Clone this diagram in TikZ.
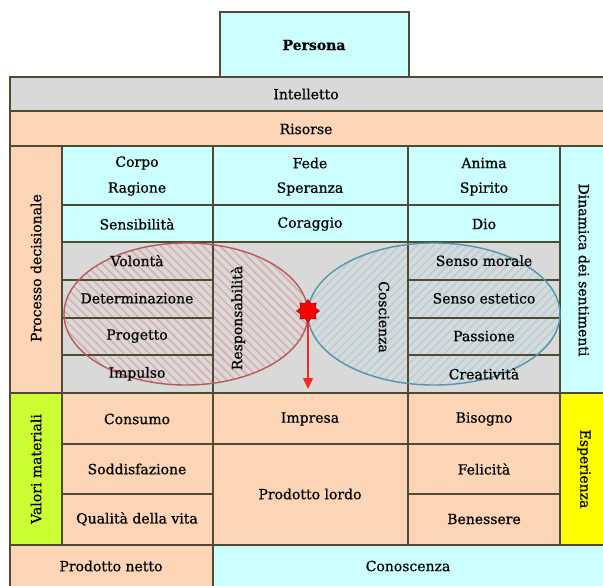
\documentclass[tikz,border=0pt]{standalone}
\usepackage{fontspec}
\setmainfont{DejaVu Serif}[FakeBold=0.6]
\usepackage{tikz}
\usetikzlibrary{arrows.meta,patterns.meta,shapes.geometric,positioning}
\definecolor{azzurro}{HTML}{CCFFFF}
\definecolor{grigio}{HTML}{D9D9D9}
\definecolor{pesca}{HTML}{FBD5B5}
\definecolor{verdelime}{HTML}{CCFF33}
\definecolor{giallo}{HTML}{FFFF00}
\definecolor{bordo}{HTML}{4F4A33}
\definecolor{rossoEll}{HTML}{B65A5A}
\definecolor{bluEll}{HTML}{5096AF}

\begin{document}
\begin{tikzpicture}[x=1pt,y=-1pt,font=\fontsize{14}{16}\selectfont,
  linea/.style={draw=bordo,line width=1.8pt},
  verticale/.style={rotate=90},
  verticaleGiu/.style={rotate=-90}]
%Koordinaten in Pixel, y nach unten
  \pgfmathsetmacro{\xA}{10}
  \pgfmathsetmacro{\xB}{62}
  \pgfmathsetmacro{\xC}{213}
  \pgfmathsetmacro{\xD}{408}
  \pgfmathsetmacro{\xE}{560}
  \pgfmathsetmacro{\xF}{605}
\useasboundingbox (0,0) rectangle (603,586);
%Flaechen
\fill[azzurro] (220,12) rectangle (409,77);
\fill[grigio] (\xA,77) rectangle (\xF,111);
\fill[pesca] (\xA,111) rectangle (\xF,146);
\fill[pesca] (\xA,146) rectangle (\xB,393);
\fill[azzurro] (\xB,146) rectangle (\xE,242);
\fill[grigio] (\xB,242) rectangle (\xE,393);
\fill[azzurro] (\xE,146) rectangle (\xF,393);
\fill[verdelime] (\xA,393) rectangle (\xB,545);
\fill[pesca] (\xB,393) rectangle (\xE,545);
\fill[giallo] (\xE,393) rectangle (\xF,545);
\fill[pesca] (\xA,545) rectangle (\xC,588);
\fill[azzurro] (\xC,545) rectangle (\xF,588);
%Ellipsen schraffiert
\fill[pattern={Lines[angle=-45,distance=6pt,line width=1.5pt]},pattern color=rossoEll!50] (186,314) ellipse [x radius=122, y radius=71];
\fill[pattern={Lines[angle=45,distance=6pt,line width=1.5pt]},pattern color=bluEll!45] (434,314) ellipse [x radius=126, y radius=71];
%Linien
\draw[linea] (220,77) -- (220,12) -- (409,12) -- (409,77);
\draw[linea] (\xA,77) rectangle (\xF,588);
\foreach \y in {111,146,393,545}
  \draw[linea] (\xA,\y) -- (\xF,\y);
\foreach \y in {205,242}
  \draw[linea] (\xB,\y) -- (\xE,\y);
\foreach \y in {280,318,355,444,494}{
  \draw[linea] (\xB,\y) -- (\xC,\y);
  \draw[linea] (\xD,\y) -- (\xE,\y);
}
\draw[linea] (\xC,444) -- (\xD,444);
\draw[linea] (\xB,146) -- (\xB,545);
\draw[linea] (\xC,146) -- (\xC,588);
\draw[linea] (\xD,146) -- (\xD,545);
\draw[linea] (\xE,146) -- (\xE,545);
\draw[rossoEll,line width=1.4pt] (186,314) ellipse [x radius=122, y radius=71];
\draw[bluEll,line width=1.4pt] (434,314) ellipse [x radius=126, y radius=71];
%Texte
\node[font=\bfseries\fontsize{14}{16}\selectfont] (persona) at (314,45) {Persona};
\node (intelletto) at (306,94) {Intelletto};
\node (risorse) at (306,129) {Risorse};
\node[verticale] (processo) at (36,268) {Processo decisionale};
\node[verticaleGiu] (dinamica) at (584,270) {Dinamica dei sentimenti};
\node[verticale] (valori) at (36,469) {Valori materiali};
\node[verticaleGiu] (esperienza) at (584,469) {Esperienza};
\foreach \nome/\x/\primo/\secondo/\terzo in {corpo/137/Corpo/Ragione/Sensibilità,
    fede/310/Fede/Speranza/Coraggio, anima/484/Anima/Spirito/Dio}{
  \node (\nome1) at (\x,163) {\primo};
  \node (\nome2) at (\x,189) {\secondo};
  \node (\nome3) at (\x,224) {\terzo};
}
\foreach \nome/\testo [count=\i] in {volonta/Volontà, determinazione/Determinazione,
    progetto/Progetto, impulso/Impulso}
  \node (\nome) at (137,223+\i*37.7) {\testo};
\foreach \nome/\testo [count=\i] in {morale/Senso morale, estetico/Senso estetico,
    passione/Passione, creativita/Creatività}
  \node (\nome) at (484,223+\i*37.7) {\testo};
\node[verticale] (responsabilita) at (238,318) {Responsabilità};
\node[verticaleGiu] (coscienza) at (384,317) {Coscienza};
\foreach \nome/\x/\testo/\y in {consumo/137/Consumo/419, soddisfazione/137/Soddisfazione/469,
    qualita/137/Qualità della vita/519, impresa/310/Impresa/419, lordo/310/Prodotto lordo/494,
    bisogno/484/Bisogno/419, felicita/484/Felicità/469, benessere/484/Benessere/519}
  \node (\nome) at (\x,\y) {\testo};
\node (netto) at (111,566) {Prodotto netto};
\node (conoscenza) at (408,566) {Conoscenza};
%Stern und Pfeil
\node[star,star points=8,star point ratio=1.45,minimum size=23pt,inner sep=0pt,
  fill=red,draw=red!60!black,line width=0.5pt] (stern) at (308,311) {};
\coordinate (pfeilende) at (308,389);
\draw[red!85!white,line width=1.3pt,-{Triangle[width=10pt,length=11pt]}] (stern) -- (pfeilende);
\end{tikzpicture}
\end{document}
